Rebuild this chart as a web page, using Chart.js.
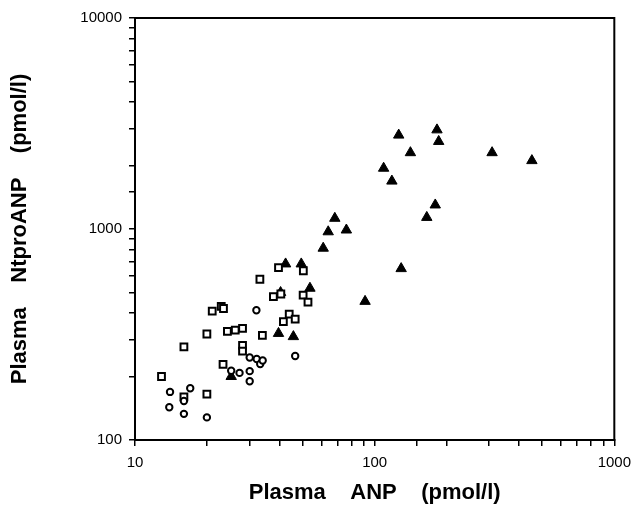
<!DOCTYPE html>
<html>
<head>
<meta charset="utf-8">
<script src="https://cdn.jsdelivr.net/npm/chart.js@4"></script>
<style>
  body { margin: 0; background: #fff; }
  canvas { display: block; }
</style>
</head>
<body>
<canvas id="scatterplot" width="639" height="527"></canvas>
<script>
// open circles
var circlesX = [14.0, 13.9, 16.0, 17.0, 16.0, 19.95, 25.2, 27.3, 30.1, 30.1, 30.1, 32.2, 33.3, 34.1, 32.1, 46.6];
var circlesY = [169, 143, 133, 176, 153, 128, 213, 208, 212, 190, 246, 242, 229, 238, 412, 250];

// open squares
var squaresX = [12.9, 16.0, 16.0, 19.95, 19.95, 21.0, 22.9, 23.4, 23.3, 24.3, 26.2, 28.1, 28.1, 28.1, 33.2, 34.0, 39.7, 37.8, 40.6, 41.6, 44.0, 46.6, 50.4, 50.3, 52.7];
var squaresY = [200, 276, 160, 165, 318, 408, 430, 420, 228, 327, 332, 338, 281, 264, 578, 313, 656, 478, 492, 364, 395, 374, 634, 486, 450];

// filled triangles
var trianglesX = [25.2, 40.5, 39.7, 42.5, 45.8, 49.4, 53.7, 61, 64, 68.2, 76.2, 91.2, 109, 118, 126, 129, 141, 165, 179, 182, 185, 309, 453];
var trianglesY = [200, 500, 320, 683, 309, 683, 524, 811, 970, 1124, 989, 454, 1941, 1687, 2786, 649, 2300, 1135, 1300, 2950, 2600, 2300, 2109];

var xTicks = [10, 100, 1000];
var yTicks = [100, 1000, 10000];

function toPoints(xs, ys) {
  return xs.map(function (x, i) { return { x: x, y: ys[i] }; });
}

function isDecade(v, list) {
  return list.indexOf(Number(v)) !== -1;
}

// box round the plot area
var frame = {
  id: 'frame',
  afterDraw: function (chart) {
    var a = chart.chartArea;
    var ctx = chart.ctx;
    ctx.save();
    ctx.strokeStyle = '#000';
    ctx.lineWidth = 2;
    ctx.strokeRect(a.left, a.top, a.right - a.left, a.bottom - a.top);
    ctx.restore();
  }
};

var tickFont = { family: 'Liberation Sans, Arial, sans-serif', size: 15 };
var titleFont = { family: 'Liberation Sans, Arial, sans-serif', size: 22, weight: 'bold' };

var ctx = document.getElementById('scatterplot').getContext('2d');

new Chart(ctx, {
  type: 'scatter',
  data: {
    datasets: [
      {
        data: toPoints(circlesX, circlesY),
        pointStyle: 'circle', pointRadius: 3.2,
        borderColor: '#000', backgroundColor: '#fff', borderWidth: 2
      },
      {
        data: toPoints(squaresX, squaresY),
        pointStyle: 'rect', pointRadius: 4.8,
        borderColor: '#000', backgroundColor: '#fff', borderWidth: 2
      },
      {
        data: toPoints(trianglesX, trianglesY),
        pointStyle: 'triangle', pointRadius: 6,
        borderColor: '#000', backgroundColor: '#000', borderWidth: 1
      }
    ]
  },
  options: {
    responsive: false,
    animation: false,
    layout: { padding: { left: 0, top: 18, right: 19, bottom: 0 } },
    plugins: { legend: { display: false }, tooltip: { enabled: false } },
    scales: {
      x: {
        type: 'logarithmic',
        min: 10, max: 1000,
        border: { color: '#000', width: 2 },
        grid: { drawOnChartArea: false, color: '#000', tickLength: 6, lineWidth: 1.5 },
        ticks: {
          color: '#000', font: tickFont, padding: 8,
          autoSkip: false, maxRotation: 0,
          callback: function (v) { return isDecade(v, xTicks) ? String(v) : ''; }
        },
        title: {
          display: true, text: 'Plasma    ANP    (pmol/l)',
          color: '#000', font: titleFont, padding: { top: 0, bottom: 21 }
        },
        afterFit: function (s) { s.height = 87; }
      },
      y: {
        type: 'logarithmic',
        min: 100, max: 10000,
        border: { color: '#000', width: 2 },
        grid: { drawOnChartArea: false, color: '#000', tickLength: 6, lineWidth: 1.5 },
        ticks: {
          color: '#000', font: tickFont, padding: 7,
          autoSkip: false,
          callback: function (v) { return isDecade(v, yTicks) ? String(v) : ''; }
        },
        title: {
          display: true, text: 'Plasma    NtproANP    (pmol/l)',
          color: '#000', font: titleFont, padding: { top: 7, bottom: 0 }
        },
        afterFit: function (s) { s.width = 135; }
      }
    }
  },
  plugins: [frame]
});
</script>
</body>
</html>
